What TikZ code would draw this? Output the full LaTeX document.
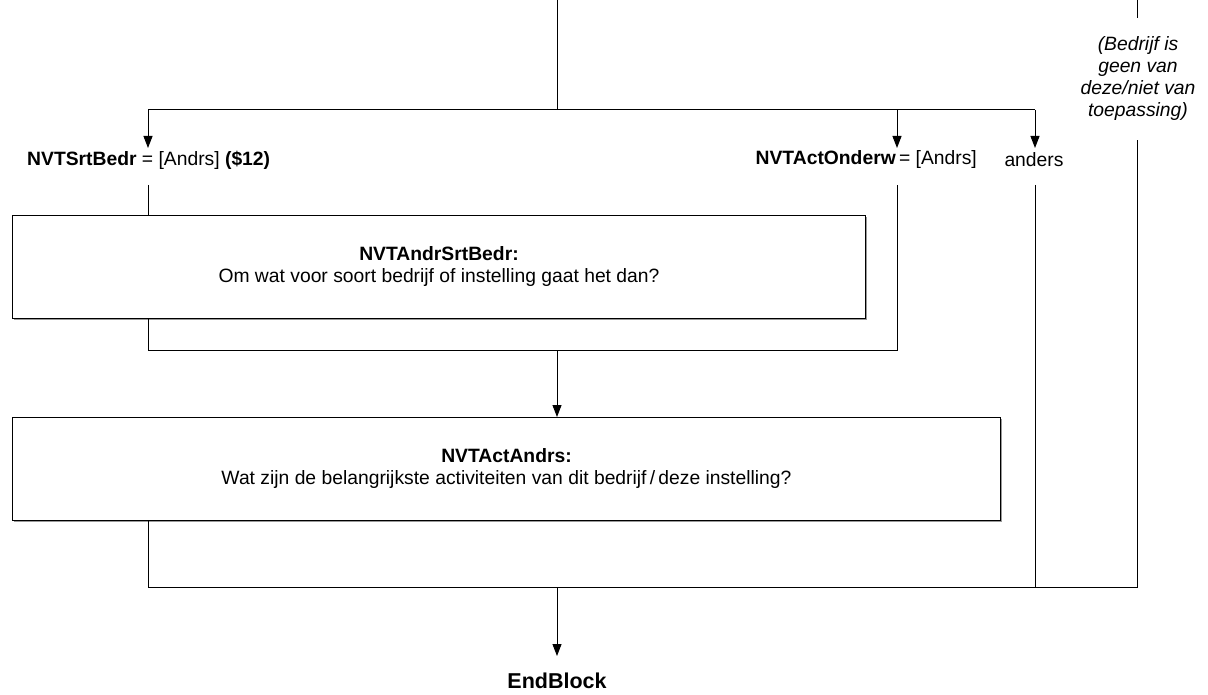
\documentclass[tikz,border=0pt]{standalone}
\usepackage{fontspec}
\setmainfont{Liberation Sans}
\usetikzlibrary{arrows.meta}
\begin{document}
\begin{tikzpicture}[x=1pt,y=-1pt,
  line/.style={draw=black,line width=1pt},
  arr/.style={line,-{Triangle[width=9pt,length=12pt]}},
  lbl/.style={inner sep=0pt,font=\fontsize{19.3}{22}\selectfont},
  qbox/.style={draw=black,line width=1pt,fill=white,minimum width=#1,minimum height=103pt,align=center,
     font=\fontsize{19.3}{22}\selectfont,inner sep=0pt}]
\useasboundingbox (0,0) rectangle (1208,695);
% top entries
\coordinate (top) at (557,0);
\coordinate (split) at (557,110);
\coordinate (sl) at (148,110);
\coordinate (sm) at (897,110);
\coordinate (sr) at (1035,110);
\coordinate (rtop) at (1137,0);
\coordinate (rtopend) at (1137,18);
% labels
\node[lbl,anchor=west] (l1) at (27,160) {\textbf{NVTSrtBedr} = [Andrs] \textbf{(\$12)}};
\node[lbl,anchor=east] (l2) at (977,160) {\textbf{NVTActOnderw}\,= [Andrs]};
\node[lbl] (l3) at (1034,160) {anders};
\node[lbl,align=center,font=\fontsize{19.3}{22}\itshape\selectfont] (rt) at (1138,79)
  {(Bedrijf is\\geen van\\deze/niet van\\toepassing)};
% boxes
\fill[black!40] (14,217) rectangle (867,320);
\node[qbox=853pt,anchor=north west] (b1) at (12,215)
  {\textbf{NVTAndrSrtBedr:}\\Om wat voor soort bedrijf of instelling gaat het dan?};
\fill[black!40] (14,419) rectangle (1002,522);
\node[qbox=988pt,anchor=north west] (b2) at (12,417)
  {\textbf{NVTActAndrs:}\\Wat zijn de belangrijkste activiteiten van dit bedrijf\,/\,deze instelling?};
\node[lbl,font=\fontsize{21.5}{24}\bfseries\selectfont] (end) at (557,681) {EndBlock};
% junction coordinates
\coordinate (l1b) at (148,185);
\coordinate (l2b) at (897,185);
\coordinate (l3b) at (1035,185);
\coordinate (rtb) at (1137,140);
\coordinate (j1l) at (148,350);
\coordinate (j1m) at (557,350);
\coordinate (j1r) at (897,350);
\coordinate (j2l) at (148,587);
\coordinate (j2m) at (557,587);
\coordinate (j2a) at (1035,587);
\coordinate (j2r) at (1137,587);
% connectors
\draw[line] (top) -- (split);
\draw[line] (sl) -- (sr);
\draw[arr] (sl) -- (148,148);
\draw[arr] (sm) -- (897,148);
\draw[arr] (sr) -- (1035,148);
\draw[line] (rtop) -- (rtopend);
\draw[line] (l1b) -- (b1.north -| l1b);
\draw[line] (b1.south -| j1l) -- (j1l) -- (j1r) -- (l2b);
\draw[arr] (j1m) -- (b2.north -| j1m);
\draw[line] (b2.south -| j2l) -- (j2l) -- (j2r) -- (rtb);
\draw[line] (l3b) -- (j2a);
\draw[arr] (j2m) -- (557,656);
\end{tikzpicture}
\end{document}
